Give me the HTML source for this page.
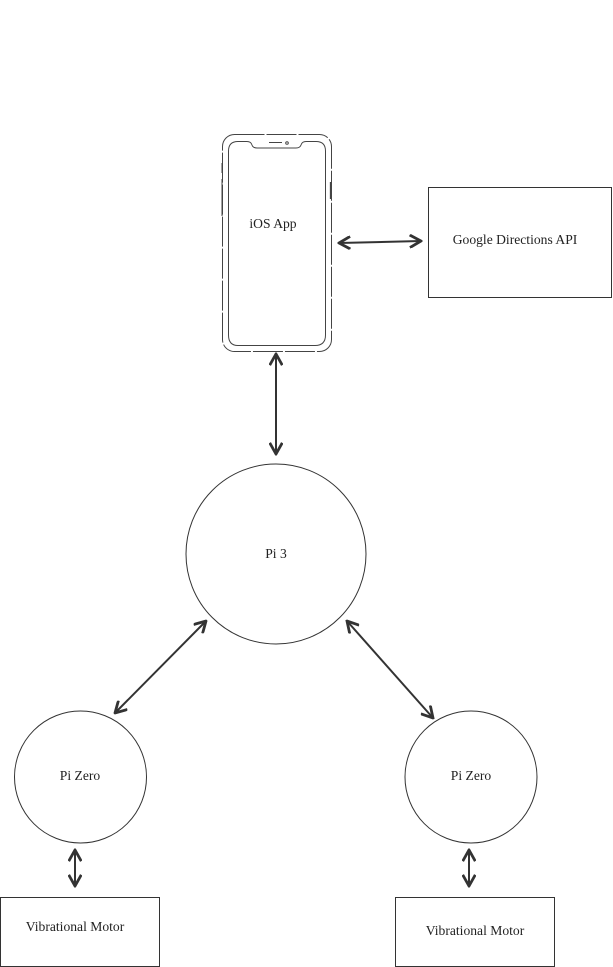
<!DOCTYPE html>
<html><head><meta charset="utf-8"><style>
html,body{margin:0;padding:0;background:#fff;}
svg{display:block;}
text{font-family:"Liberation Serif",serif;font-size:13.6px;fill:#222;}
</style></head><body>
<svg width="613" height="967" viewBox="0 0 613 967" xmlns="http://www.w3.org/2000/svg">
<defs>
<marker id="ch" viewBox="0 0 10 10" refX="9" refY="5" markerWidth="14" markerHeight="14" markerUnits="userSpaceOnUse" orient="auto-start-reverse">
<path d="M1,0.5 L9,5 L1,9.5" fill="none" stroke="#333" stroke-width="2"/>
</marker>
</defs>
<g fill="none" stroke="#444" stroke-width="1">
<rect x="222.5" y="134.5" width="109" height="217" rx="12" stroke-dasharray="30 2"/>
<path d="M240,141.5 L247,141.5 Q251,141.5 252,145 Q253,148 257,148 L296,148 Q300,148 301,145 Q302,141.5 306,141.5 L316,141.5 Q325.5,141.5 325.5,151 L325.5,335 Q325.5,345.5 315,345.5 L238,345.5 Q228.5,345.5 228.5,335 L228.5,151 Q228.5,141.5 238,141.5 Z"/>
<line x1="269" y1="142.5" x2="282" y2="142.5"/>
<circle cx="287" cy="143" r="1.3"/>
<line x1="330.5" y1="182" x2="330.5" y2="199" stroke-width="1.3"/>
<line x1="222" y1="163" x2="222" y2="173"/>
<line x1="222" y1="179" x2="222" y2="216"/>
</g>
<text x="273" y="228" text-anchor="middle">iOS App</text>
<rect x="428.5" y="187.5" width="183" height="110" fill="none" stroke="#333" stroke-width="1"/>
<text x="515" y="244" text-anchor="middle">Google Directions API</text>
<g fill="none" stroke="#333" stroke-width="1">
<circle cx="276" cy="554" r="90"/>
<circle cx="80.5" cy="777" r="66"/>
<circle cx="471" cy="777" r="66"/>
</g>
<text x="276" y="558" text-anchor="middle">Pi 3</text>
<text x="80" y="780" text-anchor="middle">Pi Zero</text>
<text x="471" y="780" text-anchor="middle">Pi Zero</text>
<rect x="0.5" y="897.5" width="159" height="69" fill="none" stroke="#333" stroke-width="1"/>
<rect x="395.5" y="897.5" width="159" height="69" fill="none" stroke="#333" stroke-width="1"/>
<text x="75" y="931" text-anchor="middle">Vibrational Motor</text>
<text x="475" y="935" text-anchor="middle">Vibrational Motor</text>
<g stroke="#333" stroke-width="2" fill="none" marker-start="url(#ch)" marker-end="url(#ch)">
<line x1="339" y1="243" x2="421" y2="241"/>
<line x1="276" y1="354" x2="276" y2="454"/>
<line x1="115" y1="713" x2="206" y2="621"/>
<line x1="347" y1="621" x2="433" y2="718"/>
<line x1="75" y1="850" x2="75" y2="886"/>
<line x1="469" y1="850" x2="469" y2="886"/>
</g>
</svg>
</body></html>
